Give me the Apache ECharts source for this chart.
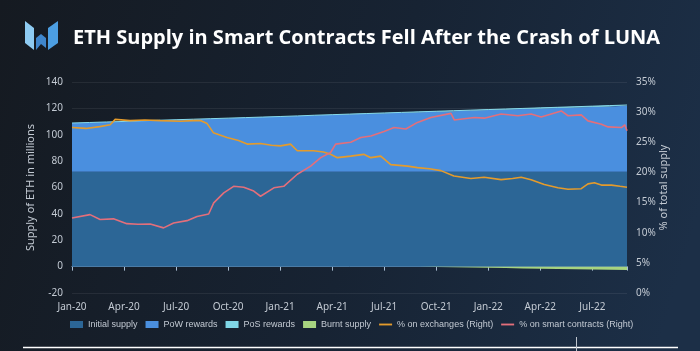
<!DOCTYPE html>
<html>
<head>
<meta charset="utf-8">
<script src="https://cdn.jsdelivr.net/npm/echarts@6/dist/echarts.min.js"></script>
<style>
html,body{margin:0;padding:0;background:#161c24;}
#c{width:700px;height:351px;}
</style>
</head>
<body>
<div id="c"></div>
<script>
// ---- Data ----
const monthCategories = ['Jan-20','Feb-20','Mar-20','Apr-20','May-20','Jun-20','Jul-20','Aug-20','Sep-20','Oct-20','Nov-20','Dec-20',
  'Jan-21','Feb-21','Mar-21','Apr-21','May-21','Jun-21','Jul-21','Aug-21','Sep-21','Oct-21','Nov-21','Dec-21',
  'Jan-22','Feb-22','Mar-22','Apr-22','May-22','Jun-22','Jul-22','Aug-22','Sep-22'];
const initialSupply = [72,72,72,72,72,72,72,72,72,72,72,72,72,72,72,72,72,72,72,72,72,72,72,72,72,72,72,72,72,72,72,72,72];
const powRewards = [36.9,37.3,37.7,38.1,38.6,39.0,39.4,39.8,40.2,40.6,41.0,41.4,41.8,42.2,42.7,43.1,43.5,43.9,44.3,44.7,45.1,45.5,45.9,46.3,46.7,47.1,47.5,47.9,48.3,48.7,49.1,49.5,49.9];
const posRewards = [0,0,0,0,0,0,0,0,0,0,0,0.02,0.05,0.08,0.1,0.13,0.16,0.19,0.22,0.25,0.28,0.31,0.34,0.37,0.4,0.43,0.46,0.49,0.52,0.55,0.58,0.61,0.64];
const burntSupply = [null,null,null,null,null,null,null,null,null,null,null,null,null,null,null,null,null,null,null,0,-0.15,-0.3,-0.5,-0.7,-0.9,-1.1,-1.35,-1.55,-1.75,-1.95,-2.15,-2.3,-2.5];

// line series: month index from Jan 2020, percent of total supply
const exchMonths = [0,0.8,1.6,2.2,2.49,3.35,4.2,5.09,6.24,7.0,7.4,7.79,8.15,8.94,9.6,10.1,10.87,11.5,12.02,12.6,12.99,13.93,14.5,14.91,15.3,16.07,16.82,17.23,17.8,18.38,19.35,19.92,20.6,21.27,22.02,23.0,23.76,24.74,25.4,25.9,26.47,27.23,28.02,28.6,29.36,29.75,30.12,30.52,31.1,31.6,32];
const exchPct = [27.45,27.3,27.6,27.9,28.8,28.6,28.7,28.6,28.5,28.6,28.6,28.1,26.6,25.8,25.3,24.7,24.8,24.5,24.4,24.7,23.6,23.6,23.4,23.0,22.45,22.7,23.0,22.45,22.7,21.3,21.05,20.8,20.6,20.3,19.4,19.0,19.2,18.8,19.0,19.2,18.8,18.0,17.45,17.2,17.3,18.1,18.3,17.9,17.9,17.7,17.55];

const scMonths = [0,1.04,1.62,2.39,3.16,3.8,4.51,5.28,5.86,6.63,7.21,7.88,8.17,8.75,9.32,9.9,10.48,10.87,11.64,12.21,12.99,13.76,14.34,14.91,15.2,16.07,16.65,17.23,17.99,18.57,19.25,19.92,20.69,21.85,22.04,23.2,23.77,24.74,25.71,26.47,27.05,28.21,28.6,29.36,29.75,30.52,30.91,31.68,31.87,32];
const scPct = [12.45,13.0,12.2,12.3,11.5,11.4,11.45,10.8,11.6,12.0,12.7,13.1,14.95,16.6,17.7,17.55,16.9,16.05,17.45,17.7,19.7,21.05,22.45,23.3,24.7,25.0,25.8,26.05,26.8,27.45,27.2,28.3,29.1,29.8,28.7,29.1,29.0,29.7,29.4,29.7,29.2,30.2,29.4,29.55,28.55,28.0,27.55,27.45,27.9,26.9];

const pair = (xs, ys) => xs.map((x, i) => [x, ys[i]]);

const chart = echarts.init(document.getElementById('c'), null, {renderer: 'canvas'});
const labelColor = '#c3cad3';
const fontFam = '"Noto Sans", "Open Sans", sans-serif';
const legendFont = '"Liberation Sans", Arial, sans-serif';

const areaSeries = (name, ys, color, stack, extra) => Object.assign({
  name, type: 'line', stack, data: ys,
  symbol: 'none', showSymbol: false, smooth: false,
  lineStyle: {width: 0, color},
  itemStyle: {color},
  areaStyle: {color, opacity: 1},
  emphasis: {disabled: true},
  xAxisIndex: 0, yAxisIndex: 0
}, extra || {});

chart.setOption({
  animation: false,
  backgroundColor: {
    type: 'linear', x: 0, y: 0, x2: 1, y2: 0.6,
    colorStops: [{offset: 0, color: '#151a21'}, {offset: 0.55, color: '#172333'}, {offset: 1, color: '#1c2f47'}]
  },
  title: {
    text: 'ETH Supply in Smart Contracts Fell After the Crash of LUNA',
    left: 68, top: 23,
    textStyle: {color: '#ffffff', fontSize: 20, fontWeight: 'bold', fontFamily: '"Open Sans", Lato, sans-serif'}
  },
  graphic: [
    {type: 'polygon', shape: {points: [[25,21],[34,28],[34,50],[25,43]]}, style: {fill: '#8ecbf2'}},
    {type: 'polygon', shape: {points: [[36,38],[41,34],[46,38],[46,48],[41,44],[36,50]]}, style: {fill: '#3f86cc'}},
    {type: 'polygon', shape: {points: [[48,28],[58,21],[58,43],[48,50]]}, style: {fill: '#4c9ee2'}},
    {type: 'line', shape: {x1: 23, y1: 347.5, x2: 678, y2: 347.5}, style: {stroke: '#ffffff', lineWidth: 1.5}},
    {type: 'line', shape: {x1: 576.5, y1: 337, x2: 576.5, y2: 351}, style: {stroke: '#bfc6cf', lineWidth: 1}}
  ],
  grid: {left: 72, right: 73, top: 82, bottom: 58},
  legend: {
    left: 70, top: 320, width: 628, padding: 0,
    itemWidth: 13, itemHeight: 7, itemGap: 8,
    textStyle: {color: labelColor, fontSize: 9, fontFamily: legendFont},
    data: [
      {name: 'Initial supply', icon: 'rect'},
      {name: 'PoW rewards', icon: 'rect'},
      {name: 'PoS rewards', icon: 'rect'},
      {name: 'Burnt supply', icon: 'rect'},
      {name: '% on exchanges (Right)', icon: 'path://M0 0H14V2H0Z'},
      {name: '% on smart contracts (Right)', icon: 'path://M0 0H14V2H0Z'}
    ]
  },
  xAxis: [
    {
      type: 'category', data: monthCategories, boundaryGap: false, position: 'bottom',
      axisLine: {show: false, onZero: false},
      axisTick: {show: false},
      splitLine: {show: false},
      axisLabel: {color: labelColor, fontSize: 10, fontFamily: fontFam, margin: 9, interval: 2}
    },
    {
      type: 'value', min: 0, max: 32, interval: 3, position: 'bottom',
      axisLine: {show: true, onZero: true, onZeroAxisIndex: 0, lineStyle: {color: '#a9bdd3', width: 1}},
      axisTick: {show: true, length: 4, lineStyle: {color: '#a9bdd3'}},
      splitLine: {show: false},
      axisLabel: {show: false}
    }
  ],
  yAxis: [
    {
      type: 'value', min: -20, max: 140, interval: 20,
      name: 'Supply of ETH in millions', nameLocation: 'middle', nameGap: 36, nameRotate: 90,
      nameMoveOverlap: false,
      nameTextStyle: {color: labelColor, fontSize: 11, fontFamily: fontFam},
      axisLine: {show: false}, axisTick: {show: false},
      axisLabel: {color: labelColor, fontSize: 10, fontFamily: fontFam, margin: 9},
      splitLine: {show: true, lineStyle: {color: 'rgba(255,255,255,0.07)', width: 1}}
    },
    {
      type: 'value', min: 0, max: 35, interval: 5, position: 'right',
      name: '% of total supply', nameLocation: 'middle', nameGap: 31, nameRotate: 90,
      nameMoveOverlap: false,
      nameTextStyle: {color: labelColor, fontSize: 11, fontFamily: fontFam},
      axisLine: {show: false}, axisTick: {show: false},
      axisLabel: {color: labelColor, fontSize: 10, fontFamily: fontFam, margin: 9, formatter: '{value}%'},
      splitLine: {show: false}
    }
  ],
  series: [
    areaSeries('Initial supply', initialSupply, '#2c6696', 'supply'),
    areaSeries('PoW rewards', powRewards, '#4a8fdf', 'supply'),
    areaSeries('PoS rewards', posRewards, '#7fd6e6', 'supply', {lineStyle: {width: 1, color: '#86d9ea'}}),
    areaSeries('Burnt supply', burntSupply, '#a7d480', 'burn', {connectNulls: false}),
    {
      name: '% on exchanges (Right)', type: 'line', data: pair(exchMonths, exchPct),
      xAxisIndex: 1, yAxisIndex: 1, symbol: 'none', showSymbol: false,
      lineStyle: {color: '#e49b2c', width: 1.6}, itemStyle: {color: '#e49b2c'}, emphasis: {disabled: true}
    },
    {
      name: '% on smart contracts (Right)', type: 'line', data: pair(scMonths, scPct),
      xAxisIndex: 1, yAxisIndex: 1, symbol: 'none', showSymbol: false,
      lineStyle: {color: '#e36f7b', width: 1.6}, itemStyle: {color: '#e36f7b'}, emphasis: {disabled: true}
    }
  ]
});
</script>
</body>
</html>
